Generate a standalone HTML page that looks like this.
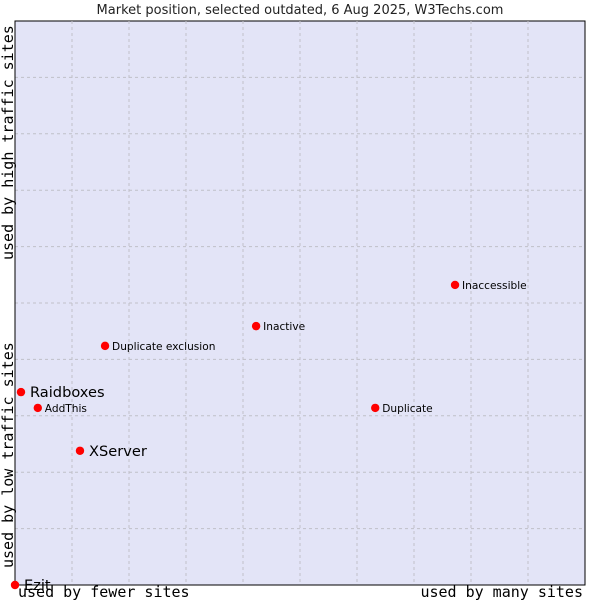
<!DOCTYPE html>
<html><head><meta charset="utf-8"><style>
body{margin:0;background:#fff;width:600px;height:600px;overflow:hidden}
svg{display:block}
</style></head><body>
<svg id="chart" width="600" height="600" xmlns="http://www.w3.org/2000/svg">
<text x="300" y="14" text-anchor="middle" font-family="DejaVu Sans, sans-serif" font-size="13" fill="#222">Market position, selected outdated, 6 Aug 2025, W3Techs.com</text>
<rect x="15" y="21" width="570" height="564" fill="#e3e4f7" stroke="#000" stroke-width="1"/>
<g id="grid"></g>
<line x1="15" y1="21" x2="15" y2="585" stroke="#000"/>
<line x1="15" y1="585" x2="585" y2="585" stroke="#000"/>
<g id="points"></g>
<text x="18" y="597" font-family="DejaVu Sans Mono, Liberation Mono, monospace" font-size="15" fill="#000">used by fewer sites</text>
<text x="583" y="597" text-anchor="end" font-family="DejaVu Sans Mono, Liberation Mono, monospace" font-size="15" fill="#000">used by many sites</text>
<text transform="translate(13,568) rotate(-90)" font-family="DejaVu Sans Mono, Liberation Mono, monospace" font-size="15" fill="#000">used by low traffic sites</text>
<text transform="translate(13,260) rotate(-90)" font-family="DejaVu Sans Mono, Liberation Mono, monospace" font-size="15" fill="#000">used by high traffic sites</text>
</svg>
<script>
const names=["Ezit","Raidboxes","AddThis","XServer","Duplicate exclusion","Inactive","Inaccessible","Duplicate"];
const xValues=[0,1.05,4.0,11.4,15.8,42.3,77.2,63.2];
const yValues=[0,34.2,31.4,23.8,42.4,45.9,53.2,31.4];
const bigLabel=[true,true,false,true,false,false,false,false];
const NS="http://www.w3.org/2000/svg";
const X=v=>15+v*5.7, Y=v=>585-v*5.64;
const grid=document.getElementById('grid');
for(let i=1;i<10;i++){
  const l=document.createElementNS(NS,'line');
  l.setAttribute('x1',X(i*10));l.setAttribute('x2',X(i*10));l.setAttribute('y1',21);l.setAttribute('y2',585);
  l.setAttribute('stroke','#c0c0c8');l.setAttribute('stroke-dasharray','3,3');
  
  
  grid.appendChild(l);
  const h=document.createElementNS(NS,'line');
  h.setAttribute('y1',Y(i*10));h.setAttribute('y2',Y(i*10));h.setAttribute('x1',15);h.setAttribute('x2',585);
  h.setAttribute('stroke','#c0c0c8');h.setAttribute('stroke-dasharray','3,3');
  
  
  grid.appendChild(h);
}
const pts=document.getElementById('points');
names.forEach((n,i)=>{
  const cx=X(xValues[i]),cy=Y(yValues[i]);
  const c=document.createElementNS(NS,'circle');
  c.setAttribute('cx',cx);c.setAttribute('cy',cy);c.setAttribute('r',4.2);c.setAttribute('fill','#f00');
  
  
  pts.appendChild(c);
  const t=document.createElementNS(NS,'text');
  t.setAttribute('x',cx+(bigLabel[i]?9:7));t.setAttribute('y',cy+(bigLabel[i]?5:4));
  t.setAttribute('font-family','DejaVu Sans, sans-serif');
  t.setAttribute('font-size',bigLabel[i]?14.6:10.6);t.setAttribute('fill','#000');
  t.textContent=n;
  
  
  pts.appendChild(t);
});
</script>
</body></html>
